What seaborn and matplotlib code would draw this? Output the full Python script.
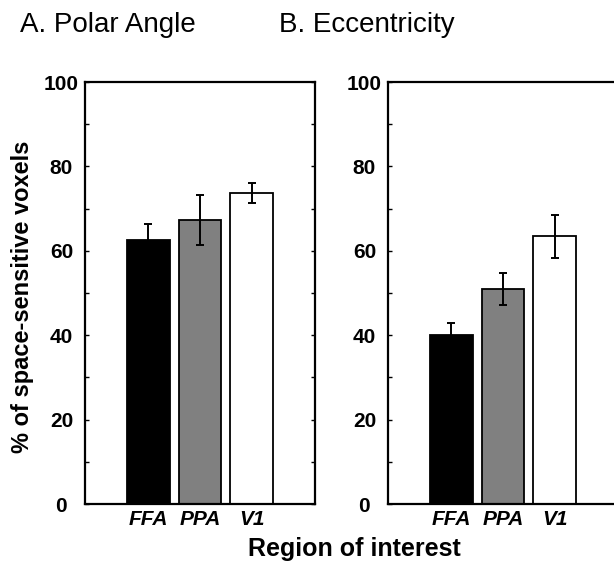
import matplotlib
matplotlib.use("Agg")
import matplotlib.pyplot as plt
from matplotlib.ticker import MultipleLocator, FixedLocator
import seaborn as sns
import pandas as pd

sns.set_style("white")
plt.rcParams["font.family"] = ["Liberation Sans", "DejaVu Sans"]
plt.rcParams.update({"text.color": "black", "axes.labelcolor": "black",
                     "xtick.color": "black", "ytick.color": "black"})

# Data
regions = ["FFA", "PPA", "V1"]
polar_mean = [62.6, 67.3, 73.7]
polar_err = [3.8, 5.9, 2.4]
ecc_mean = [40.0, 51.0, 63.4]
ecc_err = [3.0, 3.8, 5.0]
y_ticks = [0, 20, 40, 60, 80, 100]
y_ticklabels = ["0", "20", "40", "60", "80", "100"]
panel_titles = ["A. Polar Angle", "B. Eccentricity"]
bar_colors = ["#000000", "#808080", "#ffffff"]

fig = plt.figure(figsize=(6.14, 5.66), dpi=100)
W, H = 614, 566
ax_w, ax_h = 230 / W, 422 / H
ax_bottom = 62 / H
axA = fig.add_axes([85 / W, ax_bottom, ax_w, ax_h])
axB = fig.add_axes([388 / W, ax_bottom, ax_w, ax_h])


def draw_panel(ax, means, errs):
    df = pd.DataFrame({"region": regions, "value": means})
    sns.barplot(data=df, x="region", y="value", hue="region", order=regions,
                hue_order=regions, palette=bar_colors, edgecolor="black",
                linewidth=1.3, width=0.83, legend=False, ax=ax, errorbar=None,
                saturation=1)
    ax.errorbar(range(len(regions)), means, yerr=errs, fmt="none",
                ecolor="black", elinewidth=1.4, capsize=3, capthick=1.4,
                zorder=5)
    ax.set_xlim(-1.23, 3.23)
    ax.set_ylim(0, 100)
    ax.yaxis.set_minor_locator(MultipleLocator(10))
    ax.xaxis.set_major_locator(FixedLocator([0, 1, 2]))
    ax.set_xticklabels(regions, fontsize=15, fontweight="bold",
                       fontstyle="italic", color="black")
    ax.set_yticks(y_ticks)
    ax.set_yticklabels(y_ticklabels, fontsize=15, fontweight="bold",
                       color="black")
    for lab in ax.get_yticklabels():
        lab.set_horizontalalignment("center")
    ax.tick_params(axis="y", which="both", direction="in", left=True,
                   right=True, length=3, width=1, pad=17)
    ax.tick_params(axis="x", which="major", direction="in", bottom=False,
                   top=False, pad=4)
    ax.set_xlabel("")
    ax.set_ylabel("")
    for s in ax.spines.values():
        s.set_visible(True)
        s.set_color("black")
        s.set_linewidth(1.6)
    # small tick at the centre of the top spine
    ax.xaxis.set_minor_locator(FixedLocator([1]))
    ax.tick_params(axis="x", which="minor", top=True, bottom=False,
                   direction="in", length=3, width=1)


draw_panel(axA, polar_mean, polar_err)
draw_panel(axB, ecc_mean, ecc_err)

fig.text(23 / W, 1 - 297 / H, "% of space-sensitive voxels", fontsize=17,
         fontweight="bold", rotation=90, ha="center", va="center")
fig.text(20 / W, 1 - 25 / H, panel_titles[0], fontsize=20, va="center",
         ha="left")
fig.text(279 / W, 1 - 25 / H, panel_titles[1], fontsize=20, va="center",
         ha="left")
fig.text(354 / W, 1 - 549 / H, "Region of interest", fontsize=18,
         fontweight="bold", ha="center", va="center")

fig.savefig("out.png", dpi=100)
